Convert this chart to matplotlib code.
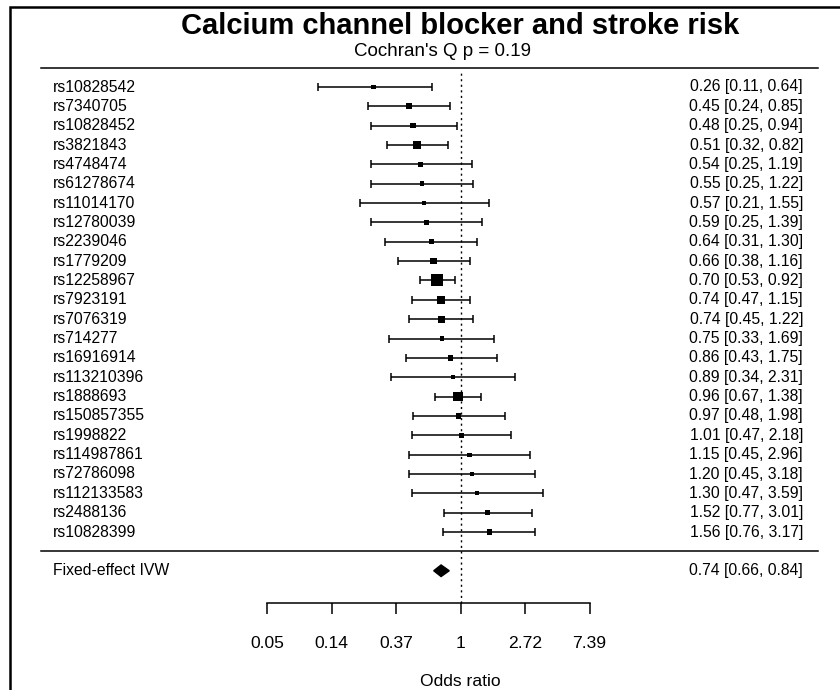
import numpy as np
import matplotlib
matplotlib.use("Agg")
import matplotlib.pyplot as plt
from matplotlib.patches import Polygon, Rectangle

plt.rcParams["font.family"] = ["Liberation Sans", "DejaVu Sans"]

# Per-SNP odds ratios with 95% CI
snps = [
    "rs10828542", "rs7340705", "rs10828452", "rs3821843", "rs4748474",
    "rs61278674", "rs11014170", "rs12780039", "rs2239046", "rs1779209",
    "rs12258967", "rs7923191", "rs7076319", "rs714277", "rs16916914",
    "rs113210396", "rs1888693", "rs150857355", "rs1998822", "rs114987861",
    "rs72786098", "rs112133583", "rs2488136", "rs10828399",
]
odds = [0.26, 0.45, 0.48, 0.51, 0.54, 0.55, 0.57, 0.59, 0.64, 0.66, 0.70, 0.74,
        0.74, 0.75, 0.86, 0.89, 0.96, 0.97, 1.01, 1.15, 1.20, 1.30, 1.52, 1.56]
ci_low = [0.11, 0.24, 0.25, 0.32, 0.25, 0.25, 0.21, 0.25, 0.31, 0.38, 0.53, 0.47,
          0.45, 0.33, 0.43, 0.34, 0.67, 0.48, 0.47, 0.45, 0.45, 0.47, 0.77, 0.76]
ci_high = [0.64, 0.85, 0.94, 0.82, 1.19, 1.22, 1.55, 1.39, 1.30, 1.16, 0.92, 1.15,
           1.22, 1.69, 1.75, 2.31, 1.38, 1.98, 2.18, 2.96, 3.18, 3.59, 3.01, 3.17]

# Pooled estimate
summary_label = "Fixed-effect IVW"
summary_or, summary_low, summary_high = 0.74, 0.66, 0.84

title = "Calcium channel blocker and stroke risk"
subtitle = "Cochran's Q p = 0.19"
tick_pos = [-3, -2, -1, 0, 1, 2]
tick_labels = ["0.05", "0.14", "0.37", "1", "2.72", "7.39"]

W, H, DPI = 840, 690, 100
fig = plt.figure(figsize=(W / DPI, H / DPI), dpi=DPI)
ax = fig.add_axes([0, 0, 1, 1])
ax.axis("off")

# log-OR on x, row number on y (pixel-based layout)
x0, sx = 460.5, 64.5
y0, sy = 551.4, 19.35
ax.set_xlim(-x0 / sx, (W - x0) / sx)
ax.set_ylim((y0 - H) / sy, y0 / sy)


def px_x(p):
    return (p - x0) / sx


def px_y(p):
    return (y0 - p) / sy


k = len(snps)
rows = np.arange(k, 0, -1)
lor = np.log(odds)
llo = np.log(ci_low)
lhi = np.log(ci_high)

# square sizes from inverse standard error (0.5 - 1.5 cex)
inv_se = 1 / ((lhi - llo) / 3.92)
psize = (inv_se - inv_se.min()) / (inv_se.max() - inv_se.min()) + 0.5
side_pt = 8 * psize * 0.72

ax.errorbar(lor, rows, xerr=[lor - llo, lhi - lor], fmt="none",
            ecolor="black", elinewidth=1.1, capsize=2.6, capthick=1.1)
ax.scatter(lor, rows, marker="s", s=side_pt ** 2, color="black",
           linewidths=0, zorder=3)

# pooled diamond
s_mid, s_lo, s_hi = np.log([summary_or, summary_low, summary_high])
ax.add_patch(Polygon([(s_lo, -1), (s_mid, -1 + 0.3), (s_hi, -1), (s_mid, -1 - 0.3)],
                     closed=True, color="black"))

# horizontal rules
line_l, line_r = px_x(41), px_x(818)
ax.plot([line_l, line_r], [k + 1, k + 1], color="black", lw=1.1)
ax.plot([line_l, line_r], [0, 0], color="black", lw=1.1)

# null line
axis_row = px_y(603)
ax.plot([0, 0], [axis_row, k + 0.8], color="black", lw=1.0, ls=(0, (1.5, 2.5)))

# bottom axis
ax.plot([tick_pos[0], tick_pos[-1]], [axis_row, axis_row], color="black", lw=1.1)
ax.vlines(tick_pos, px_y(614), axis_row, color="black", lw=1.1)
for t, lab in zip(tick_pos, tick_labels):
    ax.text(t, px_y(643), lab, ha="center", va="center", fontsize=12.6)
ax.text(0, px_y(681), "Odds ratio", ha="center", va="center", fontsize=12.6)

# row labels and estimates
fs = 11.3
for r, name, o, lo, hi in zip(rows, snps, odds, ci_low, ci_high):
    ax.text(px_x(53), r, name, ha="left", va="center", fontsize=fs)
    ax.text(px_x(803), r, f"{o:.2f} [{lo:.2f}, {hi:.2f}]",
            ha="right", va="center", fontsize=fs)
ax.text(px_x(53), -1, summary_label, ha="left", va="center", fontsize=fs)
ax.text(px_x(803), -1,
        f"{summary_or:.2f} [{summary_low:.2f}, {summary_high:.2f}]",
        ha="right", va="center", fontsize=fs)

# titles
ax.text(0, px_y(26), title, ha="center", va="center", fontsize=21,
        fontweight="bold")
ax.text(px_x(442), px_y(51), subtitle, ha="center", va="center", fontsize=13.5)

# outer frame
fig.patches.append(Rectangle((10 / W, -0.1), 1.2, 1 - 7 / H + 0.1,
                             transform=fig.transFigure, fill=False,
                             edgecolor="black", lw=1.8))

fig.savefig("out.png", dpi=DPI)
